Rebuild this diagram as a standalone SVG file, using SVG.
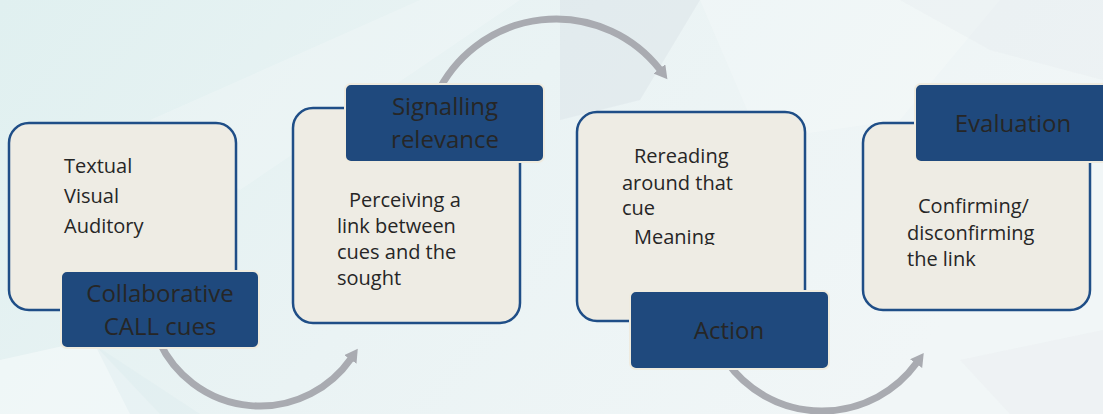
<svg xmlns="http://www.w3.org/2000/svg" width="1103" height="414" viewBox="0 0 1103 414">
  <defs>
    <linearGradient id="bg" x1="0" y1="0" x2="1" y2="0.3">
      <stop offset="0" stop-color="#e0f0f0"/>
      <stop offset="0.5" stop-color="#eaf3f4"/>
      <stop offset="1" stop-color="#f1f6f7"/>
    </linearGradient>
    <marker id="head" markerUnits="userSpaceOnUse" markerWidth="14" markerHeight="15" refX="1" refY="7.5" orient="auto">
      <path d="M0,0 L13,7.5 L0,15 z" fill="#a9abb1"/>
    </marker>
    <clipPath id="clip3">
      <rect x="577" y="112" width="228" height="133"/>
    </clipPath>
    <style>
      .box { fill: #eeece4; stroke: #1f4e87; stroke-width: 2.5; }
      .tag { fill: #1f497d; stroke: #efebdf; stroke-width: 2; }
      .body { font-family: "Open Sans", "Noto Sans", sans-serif; font-size: 20px; fill: #262626; }
      .title { font-family: "Open Sans", "Noto Sans", sans-serif; font-size: 24px; fill: #262626; text-anchor: middle; }
      .flow { fill: none; stroke: #a9abb1; stroke-width: 7; marker-end: url(#head); }
    </style>
  </defs>

  <!-- backdrop with faint angular facets -->
  <rect width="1103" height="414" fill="url(#bg)"/>
  <polygon points="150,120 420,0 520,0 240,190" fill="#ffffff" opacity="0.2"/>
  <polygon points="560,0 700,0 640,100 560,120" fill="#d3dee1" opacity="0.35"/>
  <polygon points="700,0 1000,0 900,120 760,140" fill="#ffffff" opacity="0.2"/>
  <polygon points="900,0 1103,0 1103,80 990,50" fill="#e6eaed" opacity="0.35"/>
  <polygon points="90,340 160,414 0,414 0,360" fill="#f4f9fa" opacity="0.7"/>
  <polygon points="95,345 200,414 130,414" fill="#dbeced" opacity="0.4"/>
  <polygon points="960,360 1103,330 1103,414 1010,414" fill="#e8ecef" opacity="0.35"/>

  <!-- curved connectors between the stages -->
  <g id="connectors">
    <path class="flow" d="M159.4,342 A111,111 0 0 0 350.9,358.7"/>
    <path class="flow" d="M436.4,95.2 A132,132 0 0 1 660,69.7"/>
    <path class="flow" d="M726.2,361.1 A117,117 0 0 0 916.7,362.8"/>
  </g>

  <g id="node-cues">
    <rect class="box" x="9" y="123" width="227" height="187" rx="20"/>
    <text class="body" x="64" y="173">Textual</text>
    <text class="body" x="64" y="203">Visual</text>
    <text class="body" x="64" y="233">Auditory</text>
    <rect class="tag" x="61" y="271" width="198" height="77" rx="6"/>
    <text class="title" x="160" y="302">Collaborative</text>
    <text class="title" x="160" y="335">CALL cues</text>
  </g>

  <g id="node-signalling">
    <rect class="box" x="293" y="108" width="227" height="215" rx="20"/>
    <text class="body" x="349" y="207">Perceiving a</text>
    <text class="body" x="337" y="233">link between</text>
    <text class="body" x="337" y="259">cues and the</text>
    <text class="body" x="337" y="285">sought</text>
    <rect class="tag" x="345" y="84" width="199" height="78" rx="6"/>
    <text class="title" x="445" y="115">Signalling</text>
    <text class="title" x="445" y="148">relevance</text>
  </g>

  <g id="node-action">
    <rect class="box" x="577" y="112" width="228" height="209" rx="20"/>
    <g clip-path="url(#clip3)">
      <text class="body" x="634" y="163">Rereading</text>
      <text class="body" x="622" y="190">around that</text>
      <text class="body" x="622" y="215">cue</text>
      <text class="body" x="634" y="244">Meaning</text>
    </g>
    <rect class="tag" x="630" y="291" width="199" height="78" rx="6"/>
    <text class="title" x="729" y="339">Action</text>
  </g>

  <g id="node-evaluation">
    <rect class="box" x="863" y="123" width="227" height="187" rx="20"/>
    <text class="body" x="918" y="213">Confirming/</text>
    <text class="body" x="907" y="240">disconfirming</text>
    <text class="body" x="907" y="266">the link</text>
    <rect class="tag" x="915" y="84" width="199" height="78" rx="6"/>
    <text class="title" x="1013" y="132">Evaluation</text>
  </g>
</svg>
